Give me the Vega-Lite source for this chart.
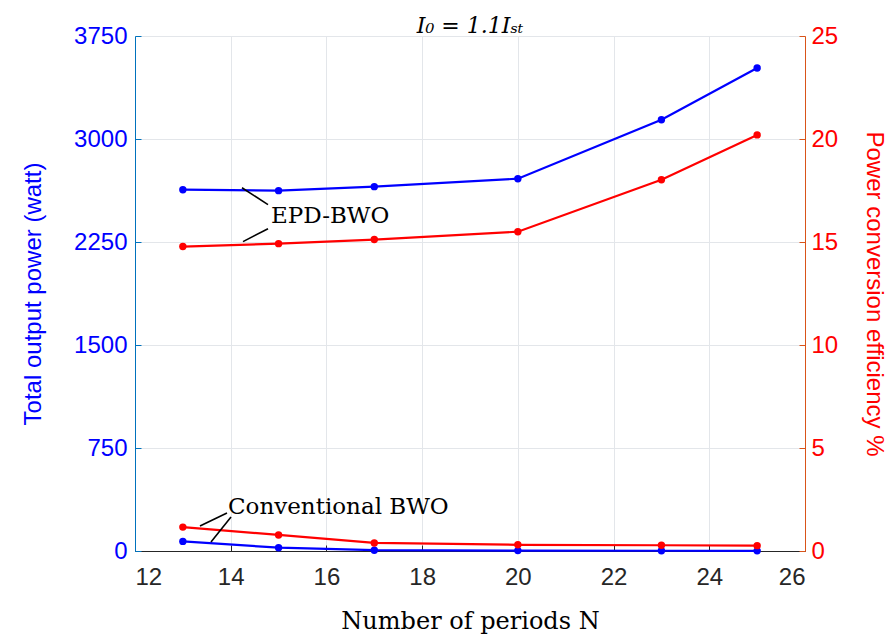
{
  "$schema": "https://vega.github.io/schema/vega-lite/v6.json",
  "width": 670,
  "height": 515,
  "autosize": {"type": "none"},
  "padding": {"left": 135, "top": 36, "right": 86, "bottom": 84},
  "background": "white",
  "title": {
    "text": "I₀ = 1.1Iₛₜ",
    "font": "DejaVu Serif",
    "fontStyle": "italic",
    "fontWeight": "normal",
    "fontSize": 22,
    "color": "black",
    "offset": 2,
    "dy": 16
  },
  "datasets": {
    "runs": [
      {"N": 13, "type": "EPD", "power": 2631, "eff": 14.78},
      {"N": 15, "type": "EPD", "power": 2624, "eff": 14.92},
      {"N": 17, "type": "EPD", "power": 2653, "eff": 15.12},
      {"N": 20, "type": "EPD", "power": 2711, "eff": 15.5},
      {"N": 23, "type": "EPD", "power": 3140, "eff": 18.02},
      {"N": 25, "type": "EPD", "power": 3517, "eff": 20.2},
      {"N": 13, "type": "Conv", "power": 70, "eff": 1.16},
      {"N": 15, "type": "Conv", "power": 24, "eff": 0.78},
      {"N": 17, "type": "Conv", "power": 6, "eff": 0.39},
      {"N": 20, "type": "Conv", "power": 3, "eff": 0.3},
      {"N": 23, "type": "Conv", "power": 2, "eff": 0.28},
      {"N": 25, "type": "Conv", "power": 1, "eff": 0.26}
    ],
    "leaders": [
      {"x": 14.236, "y": 2645, "x2": 14.779, "y2": 2522},
      {"x": 14.257, "y": 2253, "x2": 14.779, "y2": 2347},
      {"x": 13.358, "y": 182, "x2": 13.922, "y2": 276},
      {"x": 13.588, "y": 65, "x2": 14.006, "y2": 247}
    ],
    "labels": [
      {"x": 14.842, "y": 2442, "label": "EPD-BWO"},
      {"x": 13.943, "y": 320, "label": "Conventional  BWO"}
    ]
  },
  "layer": [
    {
      "data": {"name": "runs"},
      "mark": {"type": "line", "color": "#0000FF", "strokeWidth": 2.2, "point": {"filled": true, "size": 55, "color": "#0000FF"}},
      "encoding": {
        "x": {
          "field": "N", "type": "quantitative",
          "scale": {"domain": [12, 26], "nice": false},
          "axis": {
            "values": [12, 14, 16, 18, 20, 22, 24, 26],
            "title": "Number of periods N",
            "titleFont": "DejaVu Serif", "titleFontSize": 24, "titleFontWeight": "normal", "titleColor": "black",
            "titlePadding": 20,
            "labelFont": "Liberation Sans", "labelFontSize": 24, "labelColor": "#262626", "labelPadding": 20,
            "domainColor": "#262626", "tickColor": "#262626", "tickSize": -6,
            "grid": true, "gridColor": "#e3e6ea"
          }
        },
        "y": {
          "field": "power", "type": "quantitative",
          "scale": {"domain": [0, 3750], "nice": false},
          "axis": {
            "values": [0, 750, 1500, 2250, 3000, 3750],
            "format": "d",
            "title": "Total output power (watt)",
            "titleFont": "Liberation Sans", "titleFontSize": 24, "titleFontWeight": "normal", "titleColor": "#0000FF",
            "titlePadding": 28,
            "labelFont": "Liberation Sans", "labelFontSize": 24, "labelColor": "#0000FF", "labelPadding": 14,
            "domainColor": "#0072BD", "tickColor": "#0072BD", "tickSize": -6,
            "grid": true, "gridColor": "#e3e6ea"
          }
        },
        "detail": {"field": "type"}
      }
    },
    {
      "data": {"name": "runs"},
      "mark": {"type": "line", "color": "#FF0000", "strokeWidth": 2.2, "point": {"filled": true, "size": 55, "color": "#FF0000"}},
      "encoding": {
        "x": {"field": "N", "type": "quantitative", "scale": {"domain": [12, 26], "nice": false}},
        "y": {
          "field": "eff", "type": "quantitative",
          "scale": {"domain": [0, 25], "nice": false},
          "axis": {
            "orient": "right",
            "values": [0, 5, 10, 15, 20, 25],
            "title": "Power conversion efficiency %",
            "titleFont": "Liberation Sans", "titleFontSize": 24, "titleFontWeight": "normal", "titleColor": "#FF0000",
            "titlePadding": 24,
            "labelFont": "Liberation Sans", "labelFontSize": 24, "labelColor": "#FF0000", "labelPadding": 12,
            "domainColor": "#D95319", "tickColor": "#D95319", "tickSize": -6,
            "grid": false
          }
        },
        "detail": {"field": "type"}
      }
    },
    {
      "data": {"name": "leaders"},
      "mark": {"type": "rule", "color": "black", "strokeWidth": 1.6},
      "encoding": {
        "x": {"field": "x", "type": "quantitative", "scale": {"domain": [12, 26], "nice": false}},
        "y": {"field": "y", "type": "quantitative", "scale": {"domain": [0, 3750], "nice": false}, "axis": null},
        "x2": {"field": "x2"},
        "y2": {"field": "y2"}
      }
    },
    {
      "data": {"name": "labels"},
      "mark": {"type": "text", "align": "left", "baseline": "middle", "font": "DejaVu Serif", "fontSize": 23, "color": "black"},
      "encoding": {
        "x": {"field": "x", "type": "quantitative", "scale": {"domain": [12, 26], "nice": false}},
        "y": {"field": "y", "type": "quantitative", "scale": {"domain": [0, 3750], "nice": false}, "axis": null},
        "text": {"field": "label"}
      }
    }
  ],
  "resolve": {"scale": {"y": "independent"}},
  "config": {
    "view": {"stroke": "#dfe3e8"}
  }
}
